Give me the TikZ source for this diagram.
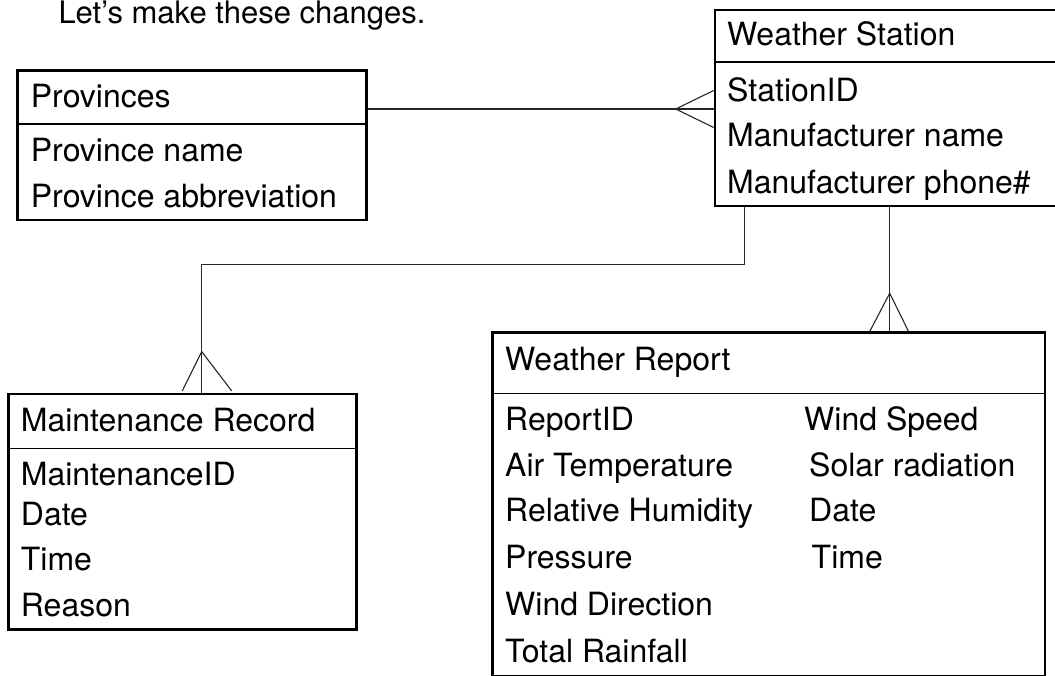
\documentclass[tikz,border=0pt]{standalone}
\usepackage{fontspec}
\setmainfont{TeX Gyre Heros}
\usetikzlibrary{shadows}
\begin{document}
\begin{tikzpicture}[x=1pt,y=-1pt,
  ebox/.style={draw, line width=2.6pt, fill=white, rectangle, inner sep=0pt,
    drop shadow={shadow xshift=1.2pt, shadow yshift=-1.2pt, opacity=1, fill=black}},
  divider/.style={line width=1.3pt},
  conn/.style={line width=1.1pt, draw=black!85},
  lbl/.style={anchor=base west, inner sep=0pt, font=\fontsize{32}{38}\selectfont}]
\useasboundingbox (0,0) rectangle (1055,675);
\clip (0,0) rectangle (1055,675);

% title
\node[lbl, font=\fontsize{31}{36}\selectfont] (title) at (58.3,23.5) {Let’s make these changes.};

% entity boxes
\node[ebox, minimum width=349.2pt, minimum height=149.3pt] (prov) at (192.1,145.35) {};
\node[ebox, minimum width=345pt, minimum height=196pt] (ws) at (887.5,108) {};
\node[ebox, minimum width=348.4pt, minimum height=235.3pt] (maint) at (182.5,511.65) {};
\node[ebox, minimum width=552.3pt, minimum height=343.7pt] (wr) at (768.85,504.15) {};

% dividers
\draw[divider] (17.5,124) -- (366.7,124);
\draw[divider] (715,62) -- (1060,62);
\draw[divider] (8.3,448.3) -- (356.7,448.3);
\draw[divider] (492.7,393.3) -- (1045,393.3);

% Provinces
\node[lbl] (provT) at (30.7,107.7) {Provinces};
\node[lbl] (prov1) at (30.7,161) {Province name};
\node[lbl] (prov2) at (30.7,207.3) {Province abbreviation};

% Weather Station
\node[lbl] (wsT) at (727,45.7) {Weather Station};
\node[lbl] (ws1) at (727,101) {StationID};
\node[lbl] (ws2) at (727,146.7) {Manufacturer name};
\node[lbl] (ws3) at (727,193) {Manufacturer phone\#};

% Maintenance Record
\node[lbl] (mT) at (20.7,431.7) {Maintenance Record};
\node[lbl] (m1) at (20.7,485) {MaintenanceID};
\node[lbl] (m2) at (20.7,525) {Date};
\node[lbl] (m3) at (20.7,570.7) {Time};
\node[lbl] (m4) at (20.7,616.7) {Reason};

% Weather Report
\node[lbl] (wrT) at (505,370) {Weather Report};
\node[lbl] (wr1) at (505,430) {ReportID};
\node[lbl] (wr2) at (505,476) {Air Temperature};
\node[lbl] (wr3) at (505,521.7) {Relative Humidity};
\node[lbl] (wr4) at (505,568) {Pressure};
\node[lbl] (wr5) at (505,615.7) {Wind Direction};
\node[lbl] (wr6) at (505,662.7) {Total Rainfall};
\node[lbl] (wr7) at (804,430) {Wind Speed};
\node[lbl] (wr8) at (809,476) {Solar radiation};
\node[lbl] (wr9) at (809,521.7) {Date};
\node[lbl] (wr10) at (811.5,568) {Time};

% helper coordinates
\coordinate (y109) at (0,109);
\coordinate (y264) at (0,264.5);
\coordinate (xL) at (744.5,0);
\coordinate (xM) at (201.7,0);
\coordinate (xR) at (889.7,0);

% Provinces -- Weather Station (many at station)
\draw[conn] (prov.east |- y109) -- (ws.west |- y109);
\draw[conn] (ws.west |- y109) ++(0,-18.5) -- ++(-38,18.5) -- ++(38,18.5);

% Weather Station -- Maintenance Record
\draw[conn] (ws.south -| xL) -- (xL |- y264) -- (xM |- y264) -- (maint.north -| xM);
\draw[conn] (maint.north -| xM) ++(-19.4,-1.8) -- ++(19.4,-39.3) -- ++(30,39.3);

% Weather Station -- Weather Report
\draw[conn] (ws.south -| xR) -- (wr.north -| xR);
\draw[conn] (wr.north -| xR) ++(-19.7,0) -- ++(19.7,-37.8) -- ++(18.6,37.8);
\end{tikzpicture}
\end{document}
